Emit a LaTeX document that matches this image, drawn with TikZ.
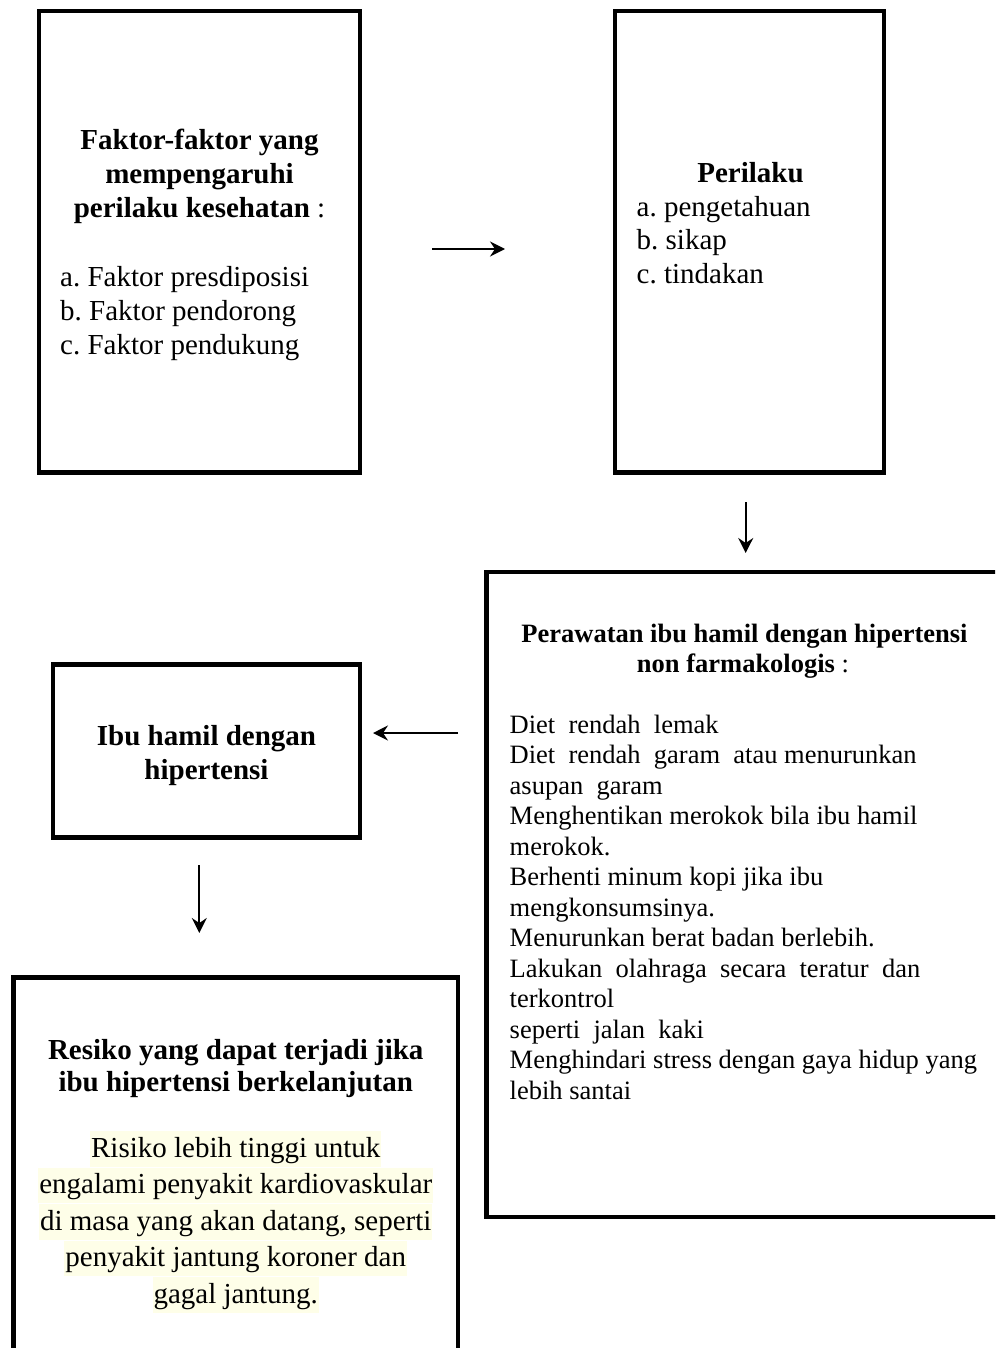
\documentclass[tikz,border=0pt]{standalone}
\usepackage{fontspec}
\setmainfont{Liberation Serif}
\usetikzlibrary{arrows.meta}
\definecolor{hl}{RGB}{254,254,232}
\frenchspacing
\begin{document}
\begin{tikzpicture}[x=1pt,y=-1pt,
  box/.style={draw, line width=4.5pt, rectangle, inner sep=0pt, outer sep=0pt},
  arr/.style={line width=2pt, -{Stealth[length=15pt,width=15pt,inset=5pt]}},
  tb/.style={inner sep=0pt, anchor=base, font=\fontsize{29}{34}\selectfont\bfseries},
  tn/.style={inner sep=0pt, anchor=base west, font=\fontsize{29}{34}\selectfont},
  sb/.style={inner sep=0pt, anchor=base, font=\fontsize{26.5}{31}\selectfont\bfseries},
  sn/.style={inner sep=0pt, anchor=base west, font=\fontsize{26.5}{31}\selectfont},
  hlt/.style={inner sep=0pt, inner xsep=1pt, anchor=base, fill=hl, text height=26pt, text depth=9.5pt, font=\fontsize{29}{34}\selectfont}]
\useasboundingbox (0,0) rectangle (995,1348);
\begin{scope}
\clip (0,0) rectangle (995,1348);
% boxes
\node[box, minimum width=321pt, minimum height=461.5pt] (b1) at (199.5,241.75) {};
\node[box, minimum width=269pt, minimum height=461.5pt] (b2) at (749.5,241.75) {};
\node[box, minimum width=523.5pt, minimum height=645pt] (b3) at (748.25,894.5) {};
\node[box, minimum width=307pt, minimum height=173pt] (b4) at (206.5,751) {};
\node[box, minimum width=444.5pt, minimum height=392.5pt] (b5) at (235.75,1173.75) {};
% box 1 text
\node[tb] (t1a) at (199.5,150) {Faktor-faktor yang};
\node[tb] (t1b) at (199.5,184) {mempengaruhi};
\node[tb] (t1c) at (199.5,218) {perilaku kesehatan \textmd{:}};
\node[tn] (t1d) at (60,286) {a. Faktor presdiposisi};
\node[tn] (t1e) at (60,320) {b. Faktor pendorong};
\node[tn] (t1f) at (60,354) {c. Faktor pendukung};
% box 2 text
\node[tb] (t2a) at (750.5,183) {Perilaku};
\node[tn] (t2b) at (636.5,216.5) {a. pengetahuan};
\node[tn] (t2c) at (636.5,250) {b. sikap};
\node[tn] (t2d) at (636.5,283.5) {c. tindakan};
% box 3 text
\node[sb] (t3a) at (744.5,642) {Perawatan ibu hamil dengan hipertensi};
\node[sb] (t3b) at (743,672) {non farmakologis \textmd{:}};
\node[sn] (l01) at (509.5,733) {Diet\ \ rendah\ \ lemak};
\node[sn] (l02) at (509.5,763.5) {Diet\ \ rendah\ \ garam\ \ atau menurunkan};
\node[sn] (l03) at (509.5,794) {asupan\ \ garam};
\node[sn] (l04) at (509.5,824.5) {Menghentikan merokok bila ibu hamil};
\node[sn] (l05) at (509.5,855) {merokok.};
\node[sn] (l06) at (509.5,885.5) {Berhenti minum kopi jika ibu};
\node[sn] (l07) at (509.5,916) {mengkonsumsinya.};
\node[sn] (l08) at (509.5,946.5) {Menurunkan berat badan berlebih.};
\node[sn] (l09) at (509.5,977) {Lakukan\ \ olahraga\ \ secara\ \ teratur\ \ dan};
\node[sn] (l10) at (509.5,1007.5) {terkontrol};
\node[sn] (l11) at (509.5,1038) {seperti\ \ jalan\ \ kaki};
\node[sn] (l12) at (509.5,1068.5) {Menghindari stress dengan gaya hidup yang};
\node[sn] (l13) at (509.5,1099) {lebih santai};
% box 4 text
\node[tb] (t4a) at (206.5,745.5) {Ibu hamil dengan};
\node[tb] (t4b) at (206.5,779.5) {hipertensi};
% box 5 text
\node[tb] (t5a) at (235.75,1059) {Resiko yang dapat terjadi jika};
\node[tb] (t5b) at (235.75,1091) {ibu hipertensi berkelanjutan};
\node[hlt] (r1) at (235.75,1157) {Risiko lebih tinggi untuk};
\node[hlt] (r2) at (235.75,1193.5) {engalami penyakit kardiovaskular};
\node[hlt] (r3) at (235.75,1230) {di masa yang akan datang, seperti};
\node[hlt] (r4) at (235.75,1266.5) {penyakit jantung koroner dan};
\node[hlt] (r5) at (235.75,1303) {gagal jantung.};
% arrows
\draw[arr, shorten <=72pt, shorten >=110pt] ([yshift=-7.25pt]b1.east) -- ([yshift=-7.25pt]b1.east -| b2.west);
\draw[arr, shorten <=29.5pt, shorten >=19pt] ([xshift=-3.8pt]b2.south) -- ([xshift=-3.8pt]b2.south |- b3.north);
\draw[arr, shorten <=28.5pt, shorten >=13pt] ([yshift=18pt]b4.east -| b3.west) -- ([yshift=18pt]b4.east);
\draw[arr, shorten <=27.5pt, shorten >=44.5pt] ([xshift=-7.2pt]b4.south) -- ([xshift=-7.2pt]b4.south |- b5.north);
\end{scope}
\end{tikzpicture}
\end{document}
